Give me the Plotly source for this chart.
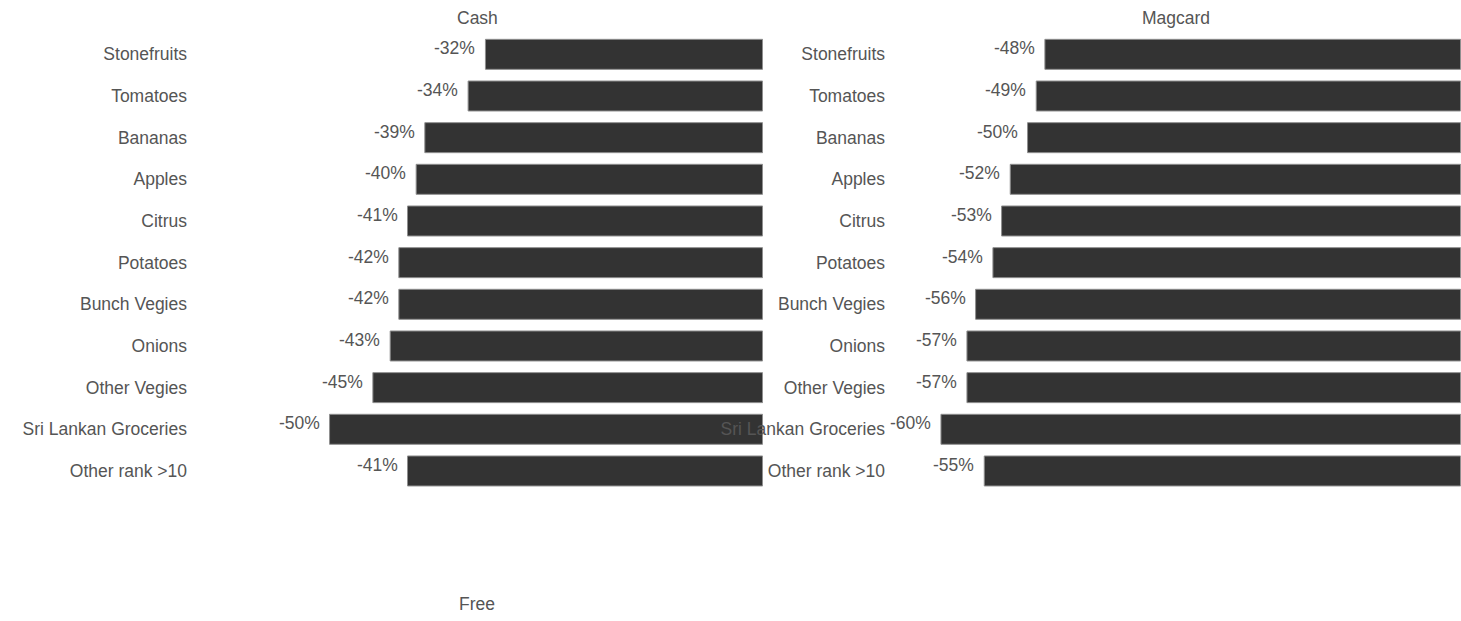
import plotly.graph_objects as go

categories = ["Stonefruits", "Tomatoes", "Bananas", "Apples", "Citrus", "Potatoes",
              "Bunch Vegies", "Onions", "Other Vegies", "Sri Lankan Groceries", "Other rank >10"]
cash = [-32, -34, -39, -40, -41, -42, -42, -43, -45, -50, -41]
magcard = [-48, -49, -50, -52, -53, -54, -56, -57, -57, -60, -55]
panel_titles = ["Cash", "Magcard", "Free"]

W, H = 1461, 621
FONT = "Arial, Liberation Sans, sans-serif"
TXT = "#555555"
FS = 17.5


def px(v, total):
    return v / total


fig = go.Figure()

panels = [("x", "y", cash), ("x2", "y2", magcard)]
for xa, ya, vals in panels:
    fig.add_trace(go.Bar(
        x=vals, y=categories, orientation="h", xaxis=xa, yaxis=ya,
        marker=dict(color="#333333", line=dict(color="#8f8f8f", width=1)),
        hoverinfo="x+y", showlegend=False,
    ))
    for c, v in zip(categories, vals):
        fig.add_annotation(
            x=v, y=c, xref=xa, yref=ya, text=f"{v}%", showarrow=False,
            xanchor="right", yanchor="middle", xshift=-8, yshift=6,
            font=dict(family=FONT, size=FS, color=TXT),
        )

ydom = [1 - px(491.8, H), 1 - px(33.5, H)]
axis_common = dict(showgrid=False, zeroline=False, showline=False, showticklabels=False,
                   range=[-66, 0.05], fixedrange=True)
yaxis_common = dict(showgrid=False, zeroline=False, showline=False, ticks="",
                    autorange="reversed", domain=ydom, ticklabelstandoff=3,
                    tickfont=dict(family=FONT, size=FS, color=TXT))

fig.update_layout(
    width=W, height=H,
    margin=dict(l=0, r=0, t=0, b=0),
    paper_bgcolor="white", plot_bgcolor="white",
    bargap=0.28,
    xaxis=dict(domain=[px(191, W), px(763, W)], anchor="y", **axis_common),
    yaxis=dict(anchor="x", **yaxis_common),
    xaxis2=dict(domain=[px(889, W), 1.0], anchor="y2", **axis_common),
    yaxis2=dict(anchor="x2", **yaxis_common),
)

# panel titles
title_pos = [(477, 17.5), (1176, 17.5), (477, 603.5)]
for t, (tx, ty) in zip(panel_titles, title_pos):
    fig.add_annotation(
        x=px(tx, W), y=1 - px(ty, H), xref="paper", yref="paper", text=t,
        showarrow=False, xanchor="center", yanchor="middle",
        font=dict(family=FONT, size=FS, color=TXT),
    )

fig.write_html("out.html")
